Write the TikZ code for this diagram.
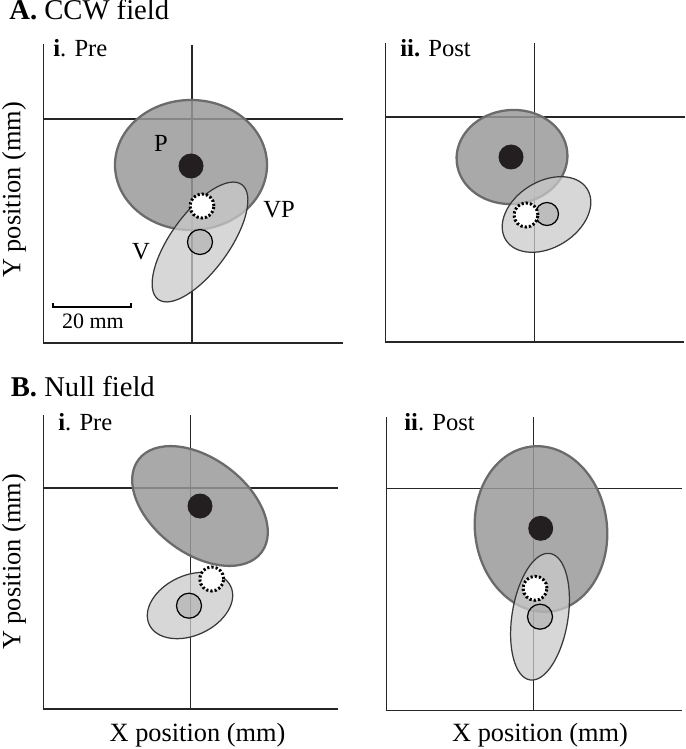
\documentclass[tikz,border=0pt]{standalone}
\usepackage{fontspec}
\setmainfont{Liberation Serif}
\usetikzlibrary{positioning}

\definecolor{pfill}{gray}{0.60}
\definecolor{pline}{gray}{0.42}
\definecolor{vfill}{gray}{0.79}
\definecolor{vline}{gray}{0.22}
\definecolor{dotfill}{HTML}{231F20}

\tikzset{
  axisline/.style={line width=0.7pt, black!85},
  pfield/.style={draw=pline, line width=1.3pt, fill=pfill, fill opacity=0.84},
  vfield/.style={draw=vline, line width=0.7pt, fill=vfill, fill opacity=0.75},
  pdot/.style={circle, fill=dotfill, minimum size=0.5cm, inner sep=0pt},
  vdot/.style={circle, draw=black, line width=0.7pt, fill=gray!70, fill opacity=0.5, minimum size=0.5cm, inner sep=0pt},
  vpdot/.style={circle, draw=black, fill=white, line width=1.7pt, dash pattern=on 1.25pt off 1.15pt, minimum size=0.48cm, inner sep=0pt},
  paneltitle/.style={anchor=base west, font=\fontsize{16.3}{19}\selectfont},
  subtitle/.style={anchor=base west, font=\fontsize{14}{16}\selectfont},
  axislabel/.style={font=\fontsize{15}{18}\selectfont},
  marker/.style={font=\fontsize{14}{16}\selectfont}
}

\begin{document}
\begin{tikzpicture}[x=0.02cm, y=-0.02cm]
  \useasboundingbox (0,0) rectangle (685,749);

  % axes and crosshairs
  \draw[axisline] (43.5,44) -- (43.5,343) -- (343,343);
  \draw[axisline] (43.5,119) -- (343,119);
  \draw[axisline] (192,45) -- (192,343);

  \draw[axisline] (385.7,43) -- (385.7,342) -- (684,342);
  \draw[axisline] (385.7,117) -- (685,117);
  \draw[axisline] (534.7,43) -- (534.7,342);

  \draw[axisline] (43.3,415) -- (43.3,709) -- (338,709);
  \draw[axisline] (43.3,488) -- (338,488);
  \draw[axisline] (190.7,415) -- (190.7,709);

  \draw[axisline] (386.7,417) -- (386.7,710.7) -- (682,710.7);
  \draw[axisline] (386.7,488.3) -- (682,488.3);
  \draw[axisline] (533.3,417) -- (533.3,710.7);

  % A i
  \draw[pfield] (191,165) ellipse [x radius=76, y radius=65];
  \draw[vfield, rotate around={54:(200,242)}] (200,242) ellipse [x radius=71, y radius=29];
  \node[vdot] (vA1) at (200,242) {};
  \node[vpdot] (vpA1) at (202,206) {};
  \node[pdot] (pA1) at (191,166) {};

  % A ii
  \draw[pfield, rotate around={5:(512,157)}] (512,157) ellipse [x radius=55.5, y radius=47];
  \draw[vfield, rotate around={32:(546.5,214.5)}] (546.5,214.5) ellipse [x radius=48, y radius=33];
  \node[vdot, minimum size=0.46cm] (vA2) at (547,214) {};
  \node[vpdot] (vpA2) at (526,215) {};
  \node[pdot] (pA2) at (511,157) {};

  % B i
  \draw[pfield, rotate around={-37:(200,506)}] (200,506) ellipse [x radius=77, y radius=47.5];
  \draw[vfield, rotate around={25:(190,605.5)}] (190,605.5) ellipse [x radius=45, y radius=30];
  \node[vdot] (vB1) at (189,605.7) {};
  \node[vpdot] (vpB1) at (211.7,579) {};
  \node[pdot] (pB1) at (200,506) {};

  % B ii
  \draw[pfield, rotate around={7:(541,529)}] (541,529) ellipse [x radius=66, y radius=83];
  \draw[vfield, rotate around={81:(540,616.7)}] (540,616.7) ellipse [x radius=64, y radius=28];
  \node[vdot] (vB2) at (540,616.7) {};
  \node[vpdot] (vpB2) at (535,588.3) {};
  \node[pdot] (pB2) at (540.7,528.3) {};

  % scale bar
  \draw[line width=1.1pt] (52.7,303) -- (52.7,306.7) -- (130.7,306.7) -- (130.7,303);

  \begin{scope}[every node/.style={inner sep=0pt}]
    \node[paneltitle] (titleA) at (9,20) {\textbf{A.} CCW field};
    \node[subtitle] (preA) at (53,57) {\textbf{i}. Pre};
    \node[subtitle] (postA) at (400,57) {\textbf{ii.} Post};
    \node[paneltitle] (titleB) at (10.5,396.7) {\textbf{B.} Null field};
    \node[subtitle] (preB) at (58,430) {\textbf{i}. Pre};
    \node[subtitle] (postB) at (404,430) {\textbf{ii}. Post};

    \node[marker] (labP) at (161,143) {P};
    \node[marker] (labVP) at (279,210) {VP};
    \node[marker] (labV) at (141,252) {V};
    \node[font=\fontsize{12.5}{14}\selectfont, anchor=base] (scale) at (93,328.3) {20 mm};

    \node[axislabel, rotate=90] (yA) at (14,190) {Y position (mm)};
    \node[axislabel, rotate=90] (yB) at (14,562) {Y position (mm)};
    \node[axislabel, anchor=base] (xB1) at (197.5,741.7) {X position (mm)};
    \node[axislabel, anchor=base] (xB2) at (540,741.7) {X position (mm)};
  \end{scope}
\end{tikzpicture}
\end{document}
